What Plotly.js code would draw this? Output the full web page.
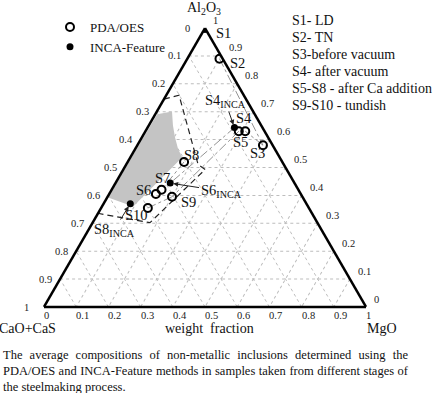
<!DOCTYPE html>
<html><head><meta charset="utf-8">
<script src="https://cdn.plot.ly/plotly-3.0.1.min.js"></script>
<style>
html,body{margin:0;padding:0;background:#fff;}
#wrap{position:relative;width:433px;height:393px;overflow:hidden;background:#fff;}
#chart{position:absolute;left:0;top:0;width:433px;height:393px;}
#caption{position:absolute;left:3px;top:347px;width:405px;font-family:'Liberation Serif','Times New Roman',serif;font-size:12.5px;line-height:16px;text-align:justify;color:#111;}
</style></head>
<body><div id="wrap"><div id="chart"></div><div id="caption"></div></div>
<script>
// ---- data (weight fractions) ----
const pdaLabels = ['S1','S2','S3','S4','S5','S6','S7','S8','S9','S10'];
const pdaAl2O3  = [1.00, 0.89, 0.58, 0.63, 0.63, 0.405, 0.42, 0.52, 0.395, 0.355];
const pdaCaO    = [0.00, 0.01, 0.03, 0.06, 0.08, 0.45, 0.425, 0.305, 0.405, 0.50];
const pdaMgO    = [0.00, 0.10, 0.39, 0.31, 0.29, 0.145, 0.155, 0.175, 0.20, 0.145];

const incaLabels = ['S1','S4','S6','S8'];
const incaAl2O3  = [1.00, 0.643, 0.444, 0.37];
const incaCaO    = [0.00, 0.087, 0.386, 0.547];
const incaMgO    = [0.00, 0.27, 0.17, 0.083];

// grey region
const regionAl2O3 = [0.691, 0.701, 0.651, 0.608, 0.568, 0.536, 0.36, 0.392];
const regionCaO   = [0.303, 0.252, 0.274, 0.289, 0.30, 0.303, 0.543, 0.605];
const regionMgO   = [0.006, 0.047, 0.075, 0.103, 0.132, 0.161, 0.097, 0.003];

// dashed outline
const dashAl2O3 = [0.745, 0.759, 0.511, 0.493, 0.302, 0.335];
const dashCaO   = [0.255, 0.201, 0.266, 0.253, 0.52, 0.662];
const dashMgO   = [0.00, 0.04, 0.223, 0.254, 0.178, 0.003];

// connecting paths between samples [fromSet, fromLabel, toSet, toLabel]
const pathLinks = [
  ['pda','S2','pda','S3'],
  ['pda','S3','pda','S4'],
  ['inca','S4','inca','S6'],
  ['pda','S5','pda','S9'],
  ['pda','S8','pda','S7'],
  ['pda','S9','pda','S10']
];

const tickVals = [0,0.1,0.2,0.3,0.4,0.5,0.6,0.7,0.8,0.9,1];
const tickText = ['1','0.9','0.8','0.7','0.6','0.5','0.4','0.3','0.2','0.1','0'];

const stageNotes = ['S1- LD','S2- TN','S3-before vacuum','S4- after vacuum','S5-S8 - after Ca addition','S9-S10 - tundish'];
const captionText = 'The average compositions of non-metallic inclusions determined using the PDA/OES and INCA-Feature methods in samples taken from different stages of the steelmaking process.';

// ---- helpers ----
function getPt(set, lab){
  if(set==='pda'){ const i=pdaLabels.indexOf(lab); return [pdaAl2O3[i], pdaCaO[i], pdaMgO[i]]; }
  const i=incaLabels.indexOf(lab); return [incaAl2O3[i], incaCaO[i], incaMgO[i]];
}
// plot area: left 44, top 28, width 322, height 279
function P(x,y){ return {x:(x-44)/322, y:(307-y)/279}; }
// ternary (a,c) -> paper coords (triangle fills the domain exactly)
function T(a,c){ return {x:c + a/2, y:a}; }

const FONT = 'Liberation Serif, Times New Roman, serif';

// path segments with gaps
const pa=[], pb=[], pc=[];
pathLinks.forEach(l=>{
  const p1=getPt(l[0],l[1]), p2=getPt(l[2],l[3]);
  pa.push(p1[0],p2[0],null); pb.push(p1[1],p2[1],null); pc.push(p1[2],p2[2],null);
});

const traces = [
  {type:'scatterternary', mode:'lines', a:regionAl2O3, b:regionCaO, c:regionMgO,
   fill:'toself', fillcolor:'#c4c4c4', line:{width:0, color:'#c4c4c4'}, showlegend:false, hoverinfo:'skip'},
  {type:'scatterternary', mode:'lines', a:dashAl2O3, b:dashCaO, c:dashMgO,
   line:{color:'#222', width:1.2, dash:'6px,4px'}, showlegend:false, hoverinfo:'skip'},
  {type:'scatterternary', mode:'lines', a:pa, b:pb, c:pc, connectgaps:false,
   line:{color:'#777', width:0.8, dash:'dashdot'}, showlegend:false, hoverinfo:'skip'},
  {type:'scatterternary', mode:'markers', name:'PDA/OES', a:pdaAl2O3, b:pdaCaO, c:pdaMgO, text:pdaLabels,
   marker:{symbol:'circle-open', size:8, color:'#000', line:{width:2, color:'#000'}}},
  {type:'scatterternary', mode:'markers', name:'INCA-Feature', a:incaAl2O3, b:incaCaO, c:incaMgO, text:incaLabels,
   marker:{symbol:'circle', size:7, color:'#000'}}
];

const axisCommon = {
  tickmode:'array', tickvals:tickVals, ticks:'', showticklabels:false,
  showgrid:true, gridcolor:'#bdbdbd', gridwidth:1, griddash:'dot',
  linecolor:'#000', linewidth:2.5, showline:true, min:0,
  title:{text:''}
};

const ann = [];
const tickFont = {family:FONT, size:10.5, color:'#222'};
// tick labels: left edge = CaO+CaS, bottom = MgO, right edge = Al2O3
tickVals.forEach((v,i)=>{
  const isEnd = (i===0 || i===tickVals.length-1);
  const l = T(v, 0);          // left edge point, Al2O3 = v
  ann.push({xref:'paper',yref:'paper',x:l.x,y:l.y,text:tickText[i],showarrow:false,
    xanchor:'right',yanchor:'middle',xshift:isEnd?-14:-7,font:tickFont,borderpad:0});
  const b = T(0, 1-v);        // bottom edge point, CaO+CaS = v
  ann.push({xref:'paper',yref:'paper',x:b.x,y:b.y,text:tickText[i],showarrow:false,
    xanchor:'left',yanchor:'middle',xshift:-1,yshift:-8.5,font:tickFont,borderpad:0});
  const r = T(1-v, v);        // right edge point, MgO = v
  ann.push({xref:'paper',yref:'paper',x:r.x,y:r.y,text:tickText[i],showarrow:false,
    xanchor:'left',yanchor:'middle',xshift:7,yshift:8,font:tickFont,borderpad:0});
});

// vertex titles
const titleFont = {family:FONT,size:14,color:'#111'};
[['Al<sub>2</sub>O<sub>3</sub>',204,9],['CaO+CaS',27,328],['MgO',382,328]].forEach(t=>{
  const q=P(t[1],t[2]);
  ann.push({xref:'paper',yref:'paper',x:q.x,y:q.y,text:t[0],showarrow:false,xanchor:'center',yanchor:'middle',font:titleFont,borderpad:0});
});

// point labels
const ptLabels = [
  ['S1',223,33],['S2',237,63],['S3',257,153],['S4',244,118],['S5',240,142],
  ['S8',191,155],['S7',162,178],['S6',143,190],['S9',188,202],['S10',136,215]
];
ptLabels.forEach(p=>{
  const q=P(p[1],p[2]);
  ann.push({xref:'paper',yref:'paper',x:q.x,y:q.y,text:p[0],showarrow:false,
    font:{family:FONT,size:14.5,color:'#111'},xanchor:'center',yanchor:'middle'});
});
// INCA arrow labels
const arrowLabels = [['S4', 225,101],['S6',221,191],['S8',114,230]];
arrowLabels.forEach(l=>{
  const p=getPt('inca',l[0]); const tip=T(p[0],p[2]);
  const tipPx = {x:44+tip.x*322, y:307-tip.y*279};
  ann.push({xref:'paper',yref:'paper',x:tip.x,y:tip.y,text:l[0]+'<sub>INCA</sub>',
    showarrow:true, arrowhead:2, arrowsize:1, arrowwidth:1, arrowcolor:'#222', standoff:3,
    ax:l[1]-tipPx.x, ay:l[2]-tipPx.y, font:{family:FONT,size:14.5,color:'#111'}});
});
// stage notes
stageNotes.forEach((t,i)=>{
  const q=P(290, 20.5 + i*17.1);
  ann.push({xref:'paper',yref:'paper',x:q.x,y:q.y,text:t,showarrow:false,xanchor:'left',yanchor:'middle',
    font:{family:FONT,size:14,color:'#111'}});
});
// weight fraction
const wf=P(209,328);
ann.push({xref:'paper',yref:'paper',x:wf.x,y:wf.y,text:'weight\u00a0 fraction',showarrow:false,xanchor:'center',yanchor:'middle',
  font:{family:FONT,size:14,color:'#111'},borderpad:0});

const lg=P(50,12);
const layout = {
  width:433, height:393,
  margin:{l:44, r:67, t:28, b:86, pad:0, autoexpand:false},
  paper_bgcolor:'rgba(0,0,0,0)',
  font:{family:FONT, color:'#111', size:11},
  showlegend:true,
  legend:{x:lg.x, y:lg.y, xanchor:'left', yanchor:'top', bgcolor:'rgba(0,0,0,0)',
    font:{family:FONT, size:13, color:'#111'}, itemwidth:30},
  ternary:{
    domain:{x:[0,1], y:[0,1]}, sum:1, bgcolor:'#fff',
    aaxis:Object.assign({}, axisCommon),
    baxis:Object.assign({}, axisCommon),
    caxis:Object.assign({}, axisCommon)
  },
  annotations:ann
};

Plotly.newPlot('chart', traces, layout, {displayModeBar:false, staticPlot:true});
document.getElementById('caption').textContent = captionText;
</script>
</body></html>
